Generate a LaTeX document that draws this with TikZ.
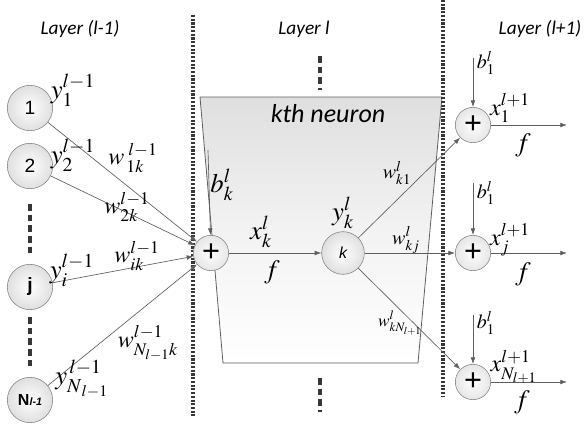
\documentclass[tikz,border=0pt]{standalone}
\usepackage{mathptmx}
\usepackage{fontspec}
\usetikzlibrary{arrows.meta,positioning}
\newfontfamily\calfont{Carlito}
\newfontfamily\arfont{Liberation Sans}
\definecolor{edgegrey}{RGB}{95,95,95}
\definecolor{dotgrey}{RGB}{55,55,55}

\begin{document}
\begin{tikzpicture}[x=0.75pt,y=-0.75pt,
  unit/.style={circle,draw=edgegrey!80,inner color=white,outer color=gray!25,
               minimum size=34pt,inner sep=0pt,font=\arfont\Large},
  sumnode/.style={circle,draw=edgegrey!80,inner color=white,outer color=gray!20,
               minimum size=26.5pt,inner sep=0pt,font=\arfont\fontsize{23}{24}\selectfont},
  lbl/.style={inner sep=0pt,font=\fontsize{20}{24}\selectfont},
  xlbl/.style={inner sep=0pt,font=\fontsize{18}{20}\selectfont},
  wlbl/.style={inner sep=0pt,font=\fontsize{18}{20}\selectfont},
  blbl/.style={inner sep=0pt,font=\fontsize{15}{17}\selectfont},
  hdr/.style={inner sep=0pt,font=\calfont\itshape\fontsize{14.5}{16}\selectfont},
  ar/.style={-{Latex[length=5pt,width=3.5pt]},edgegrey,line width=0.5pt},
  sep/.style={dotgrey,line width=2.4pt,dash pattern=on 1.6pt off 1.2pt},
  vdots/.style={dotgrey,line width=3.2pt,dash pattern=on 5pt off 3pt}]

\useasboundingbox (0,0) rectangle (587,425);

% kth neuron box
\shade[top color=gray!25,bottom color=white,middle color=gray!10]
  (200,97) -- (442,97) -- (418,363) -- (223,363) -- cycle;
\draw[edgegrey,line width=0.6pt] (200,97) -- (442,97) -- (418,363) -- (223,363) -- cycle;
\node[inner sep=0pt,font=\calfont\itshape\fontsize{19.5}{21}\selectfont] (kth) at (328,114) {kth neuron};

% layer separators
\draw[sep] (193,15) -- (193,416);
\draw[sep] (443,0) -- (443,396);

\node[hdr] (h1) at (80,29) {Layer (l-1)};
\node[hdr] (h2) at (304,29) {Layer l};
\node[hdr] (h3) at (540,29) {Layer (l+1)};

\draw[vdots] (320,56) -- (320,90);
\draw[vdots] (320,378) -- (320,412);
\draw[vdots] (30,204) -- (30,254);
\draw[vdots] (30,317) -- (30,368);

% layer l-1
\node[unit] (n1) at (30,108) {1};
\node[unit] (n2) at (30,166) {2};
\node[unit,font=\arfont\bfseries\Large] (nj) at (30,287) {j};
\node[unit,font=\arfont\bfseries\large] (nN) at (30,400) {N\textit{\footnotesize l-1}};

% layer l
\node[sumnode] (sum) at (211,253) {+};
\node[unit,minimum size=32pt,font=\arfont\itshape\large] (kn) at (343,253) {k};

% layer l+1
\node[sumnode] (s1) at (473,125) {+};
\node[sumnode] (sj) at (473,253) {+};
\node[sumnode] (sN) at (473,382) {+};

\coordinate (bk) at (208,150);
\coordinate (b1) at (473,58);
\coordinate (bj) at (473,183);
\coordinate (bN) at (473,315);
\coordinate (o1) at (567,125);
\coordinate (oj) at (567,253);
\coordinate (oN) at (567,382);

\foreach \a/\b in {n1/sum,n2/sum,nj/sum,nN/sum,bk/sum,sum/kn,kn/s1,kn/sj,kn/sN,
  b1/s1,bj/sj,bN/sN,s1/o1,sj/oj,sN/oN} \draw[ar] (\a) -- (\b);

% labels
\node[lbl] (y1) at (73,90) {$y_1^{l-1}$};
\node[lbl] (y2) at (73,155) {$y_2^{l-1}$};
\node[lbl] (yi) at (72,270) {$y_i^{l-1}$};
\node[lbl] (yN) at (82,379) {$y_{N_{\,l-1}}^{\,l-1}$};
\node[wlbl] (w1) at (133,158) {$w_{\,1k}^{\,\,l-1}$};
\node[wlbl] (w2) at (127,207) {$w_{2k}^{l-1}$};
\node[wlbl] (wi) at (137,256) {$w_{ik}^{l-1}$};
\node[wlbl] (wN) at (148,343) {$w_{N_{l-1}k}^{l-1}$};
\node[lbl] (bkl) at (222,185) {$b_k^l$};
\node[lbl] (xk) at (261,232) {$x_k^l$};
\node[lbl] (fk) at (272,272) {$f$};
\node[lbl] (yk) at (343,213) {$y_k^l$};
\node[blbl] (wk1) at (397,173) {$w_{k1}^l$};
\node[blbl] (wkj) at (406,240) {$w_{kj}^l$};
\node[inner sep=0pt,font=\fontsize{13}{15}\selectfont] (wkN) at (400,323) {$w_{kN_{l+1}}^l$};

\node[blbl] (b1l) at (486,63) {$b_1^l$};
\node[blbl] (bjl) at (486,193) {$b_1^l$};
\node[blbl] (bNl) at (486,323) {$b_1^l$};
\node[xlbl] (x1) at (510,108) {$x_1^{l+1}$};
\node[xlbl] (xj) at (510,240) {$x_j^{l+1}$};
\node[xlbl] (xN) at (514,367) {$x_{N_{l+1}}^{l+1}$};
\node[lbl] (f1) at (523,145) {$f$};
\node[lbl] (fj) at (523,274) {$f$};
\node[lbl] (fN) at (522,402) {$f$};
\end{tikzpicture}
\end{document}
